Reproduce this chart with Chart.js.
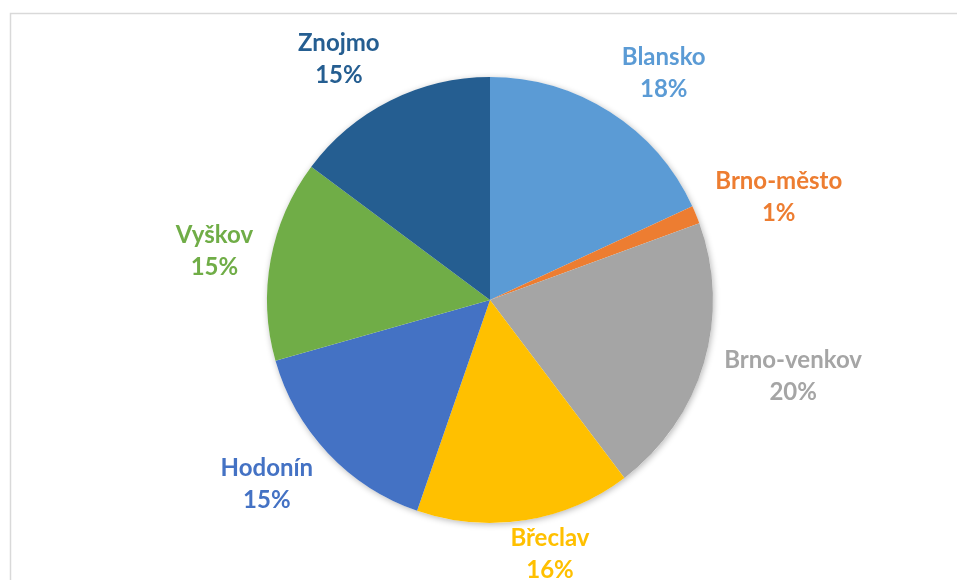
<!DOCTYPE html>
<html>
<head>
<meta charset="utf-8">
<script src="https://cdn.jsdelivr.net/npm/chart.js@4.4.0/dist/chart.umd.min.js"></script>
<style>
  html, body { margin: 0; padding: 0; background: #fff; }
  #wrap { width: 957px; height: 580px; position: relative; }
</style>
</head>
<body>
<div id="wrap"><canvas id="pieChart" width="957" height="580"></canvas></div>
<script>
// okresy a jejich podíly (odhad z obrázku)
const districts = ['Blansko', 'Brno-město', 'Brno-venkov', 'Břeclav', 'Hodonín', 'Vyškov', 'Znojmo'];
const shares = [18.1, 1.3, 20.3, 15.6, 15.3, 14.6, 14.8];
const sliceColors = ['#5B9BD5', '#ED7D31', '#A5A5A5', '#FFC000', '#4472C4', '#70AD47', '#255E91'];

const labelFont = 'bold 24px Lato';
const lineHeight = 32;
const labelGap = 14;

// rámeček kolem grafu
const framePlugin = {
  id: 'frame',
  beforeDraw(chart) {
    const ctx = chart.ctx;
    ctx.save();
    ctx.strokeStyle = '#d9d9d9';
    ctx.lineWidth = 1.5;
    ctx.strokeRect(10.5, 13.5, chart.width + 20, chart.height + 20);
    ctx.restore();
  }
};

// jemný stín pod koláčem
const shadowPlugin = {
  id: 'pieShadow',
  beforeDatasetsDraw(chart) {
    const arc = chart.getDatasetMeta(0).data[0];
    if (!arc) return;
    const ctx = chart.ctx;
    ctx.save();
    ctx.shadowColor = 'rgba(0,0,0,0.28)';
    ctx.shadowBlur = 6;
    ctx.shadowOffsetX = 1;
    ctx.shadowOffsetY = 1.5;
    ctx.fillStyle = '#fff';
    ctx.beginPath();
    ctx.arc(arc.x, arc.y, arc.outerRadius, 0, Math.PI * 2);
    ctx.fill();
    ctx.restore();
  }
};

// popisky vně výsečí (přibližně jako v Excelu)
const outsideLabels = {
  id: 'outsideLabels',
  afterDatasetsDraw(chart) {
    const ctx = chart.ctx;
    const meta = chart.getDatasetMeta(0);
    const data = chart.data.datasets[0].data;
    const total = data.reduce((a, b) => a + b, 0);
    ctx.save();
    ctx.font = labelFont;
    ctx.textAlign = 'center';
    ctx.textBaseline = 'middle';
    meta.data.forEach((arc, i) => {
      const lines = [chart.data.labels[i], Math.round(data[i] / total * 100) + '%'];
      const w = Math.max(...lines.map(t => ctx.measureText(t).width));
      const mid = (arc.startAngle + arc.endAngle) / 2;
      const ux = Math.cos(mid), uy = Math.sin(mid);
      const d = arc.outerRadius + labelGap;
      const fx = Math.sign(ux) * Math.min(1.1, Math.abs(ux) * 3.7);
      let cx = arc.x + ux * d + fx * w / 2;
      let cy = arc.y + uy * d + uy * lineHeight;
      // nevyjet pod spodní okraj
      cy = Math.min(cy, chart.height - 26);
      ctx.fillStyle = sliceColors[i];
      lines.forEach((t, k) => {
        ctx.fillText(t, cx, cy + (k - (lines.length - 1) / 2) * lineHeight);
      });
    });
    ctx.restore();
  }
};

new Chart(document.getElementById('pieChart'), {
  type: 'pie',
  data: {
    labels: districts,
    datasets: [{
      data: shares,
      backgroundColor: sliceColors,
      borderWidth: 0
    }]
  },
  options: {
    responsive: false,
    animation: false,
    layout: {
      padding: { top: 77, bottom: 57, left: 23, right: 0 }
    },
    plugins: {
      legend: { display: false },
      tooltip: { enabled: false }
    }
  },
  plugins: [framePlugin, shadowPlugin, outsideLabels]
});
</script>
</body>
</html>
